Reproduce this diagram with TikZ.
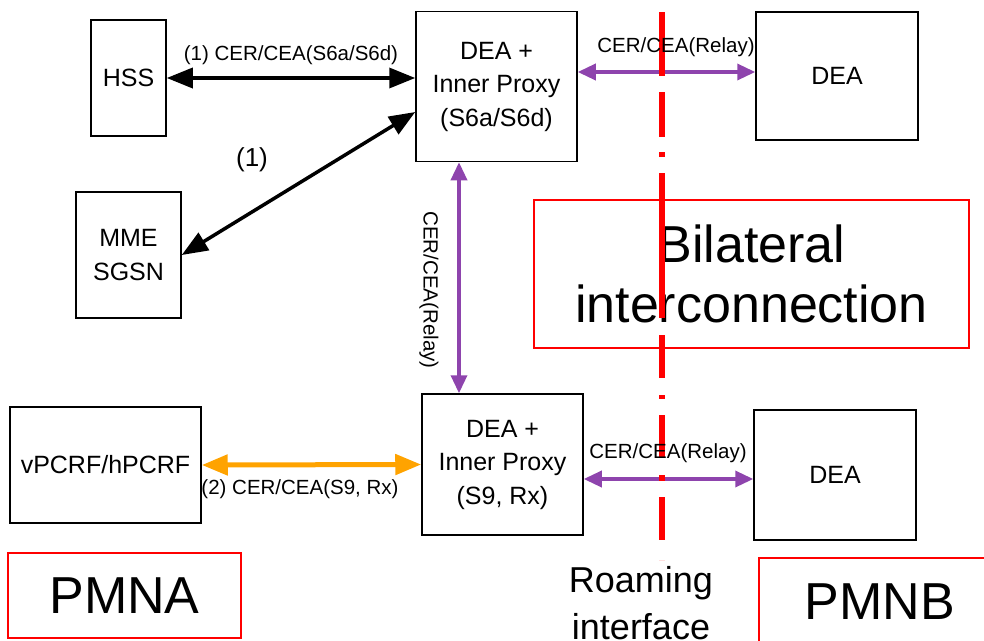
\documentclass[tikz,border=0pt]{standalone}
\usepackage{fontspec}
\setmainfont{Liberation Sans}
\usetikzlibrary{arrows.meta}
\definecolor{purp}{RGB}{142,68,173}
\definecolor{orng}{RGB}{255,163,0}
\begin{document}
\begin{tikzpicture}[x=1pt,y=-1pt,
  box/.style={draw=black, line width=1.5pt, align=center, inner sep=0pt, font=\fontsize{25}{33.5}\selectfont},
  redbox/.style={draw=red, line width=1.3pt, align=center, inner sep=0pt, font=\fontsize{52}{60}\selectfont},
  lbl/.style={font=\fontsize{20.5}{24}\selectfont, inner sep=0pt},
  blk/.style={line width=3.5pt, {Triangle[length=26pt,width=20pt]}-{Triangle[length=26pt,width=20pt]}},
  prp/.style={draw=purp, line width=3.5pt, {Triangle[length=18pt,width=16pt]}-{Triangle[length=18pt,width=16pt]}},
  org/.style={draw=orng, line width=5pt, {Triangle[length=26pt,width=20pt]}-{Triangle[length=26pt,width=20pt]}},
  roam/.style={draw=red, line width=6.5pt, dash pattern=on 64pt off 16pt on 45pt off 15pt on 5pt off 16pt on 145pt off 17pt on 43pt off 17pt on 4pt off 16pt on 42pt off 18pt on 6pt off 16pt on 43pt off 20pt}
]
\useasboundingbox (0,0) rectangle (984,640);
\clip (0,0) rectangle (984,640);

% boxes
\node[box, minimum width=75pt, minimum height=116pt] (hss) at (128.5,78) {HSS};
\node[box, minimum width=105pt, minimum height=126pt] (mme) at (128.5,255) {MME\\SGSN};
\node[box, minimum width=161pt, minimum height=150pt] (dea1) at (496.5,86.5) {DEA +\\Inner Proxy\\(S6a/S6d)};
\node[box, minimum width=162pt, minimum height=128pt] (deaR1) at (837,76) {DEA};
\node[box, minimum width=161pt, minimum height=141pt] (dea2) at (502.5,464.5) {DEA +\\Inner Proxy\\(S9, Rx)};
\node[box, minimum width=162pt, minimum height=130pt] (deaR2) at (835,475) {DEA};
\node[box, minimum width=191pt, minimum height=116pt] (pcrf) at (105.5,465) {vPCRF/hPCRF};

% red boxes
\node[redbox, minimum width=435pt, minimum height=148pt] (bil) at (751.5,274) {Bilateral\\interconnection};
\node[redbox, minimum width=233pt, minimum height=85pt] (pmna) at (124.5,595.5) {PMNA};
\node[redbox, minimum width=242pt, minimum height=87pt] (pmnb) at (880,601.5) {PMNB};

% helper coordinates
\coordinate (yhss) at (0,78);
\coordinate (ymme) at (0,112);
\coordinate (ytop) at (0,72);
\coordinate (ybot) at (0,479);
\coordinate (xv) at (459,0);

% connectors
\draw[blk] (hss.east |- yhss) -- (dea1.west |- yhss);
\draw[blk] (mme.east) -- (dea1.west |- ymme);
\draw[prp] (dea1.east |- ytop) -- (deaR1.west |- ytop);
\draw[prp] (dea1.south -| xv) -- (dea2.north -| xv);
\draw[org] (pcrf.east) -- (dea2.west);
\draw[prp] (dea2.east |- ybot) -- (deaR2.west |- ybot);

% roaming interface line
\coordinate (rtop) at (662,12);
\coordinate (rbot) at (662,560);
\draw[roam] (rtop) -- (rbot);

% labels
\node[lbl] (l1) at (291,55) {(1) CER/CEA(S6a/S6d)};
\node[font=\fontsize{26}{30}\selectfont, inner sep=0pt] (l2) at (252,160) {(1)};
\node[lbl] (l3) at (676,47) {CER/CEA(Relay)};
\node[lbl, rotate=-90] (l4) at (429,290) {CER/CEA(Relay)};
\node[lbl] (l5) at (300,489) {(2) CER/CEA(S9, Rx)};
\node[lbl] (l6) at (668,453) {CER/CEA(Relay)};
\node[align=center, inner sep=0pt, font=\fontsize{36}{47}\selectfont] (roamtxt) at (641,603) {Roaming\\interface};
\end{tikzpicture}
\end{document}
